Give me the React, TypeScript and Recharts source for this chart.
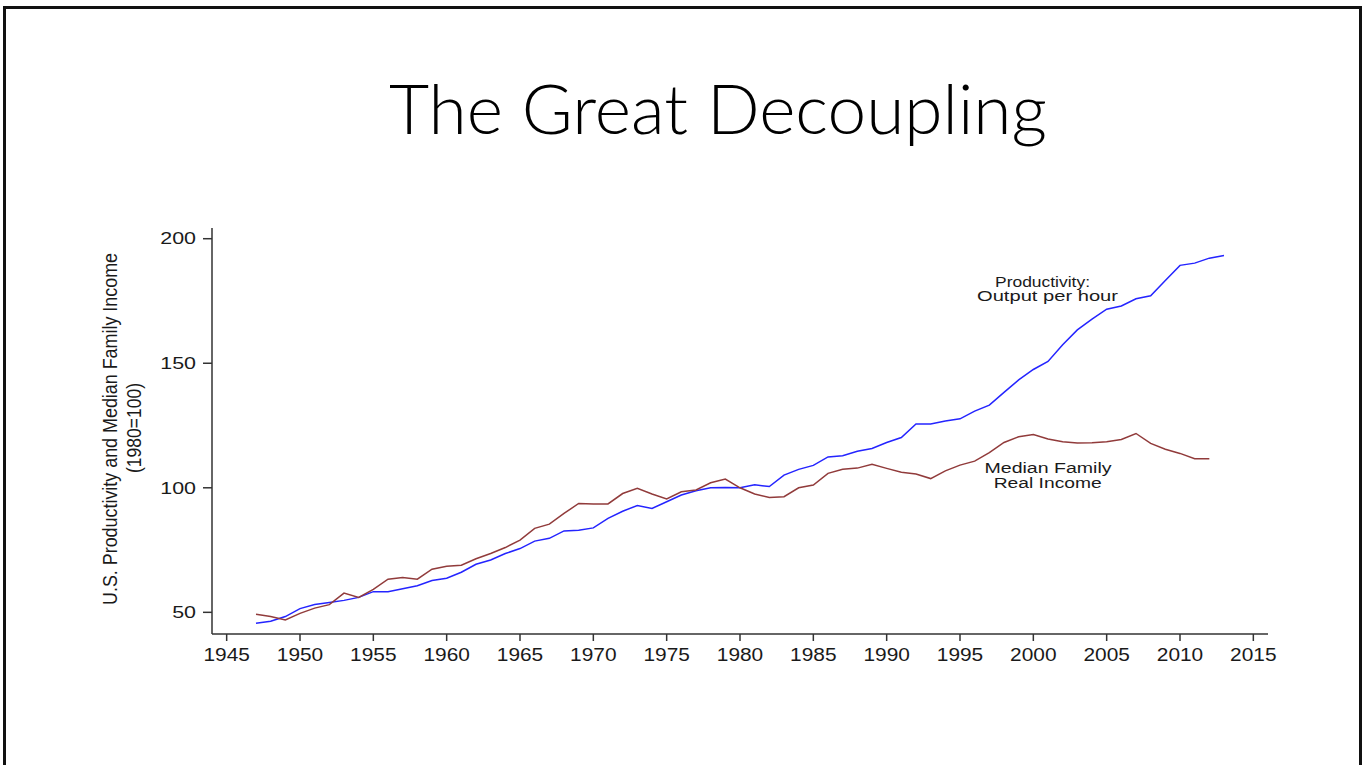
import React from "react";
import { LineChart, Line, XAxis, YAxis } from "recharts";

const years: number[] = [
  1947, 1948, 1949, 1950, 1951, 1952, 1953, 1954, 1955, 1956, 1957, 1958, 1959,
  1960, 1961, 1962, 1963, 1964, 1965, 1966, 1967, 1968, 1969, 1970, 1971, 1972,
  1973, 1974, 1975, 1976, 1977, 1978, 1979, 1980, 1981, 1982, 1983, 1984, 1985,
  1986, 1987, 1988, 1989, 1990, 1991, 1992, 1993, 1994, 1995, 1996, 1997, 1998,
  1999, 2000, 2001, 2002, 2003, 2004, 2005, 2006, 2007, 2008, 2009, 2010, 2011,
  2012, 2013,
];

const productivity: number[] = [
  45.6, 46.4, 48.3, 51.5, 53.1, 53.9, 54.8, 56.0, 58.3, 58.3, 59.5, 60.7, 62.8,
  63.7, 66.1, 69.3, 71.0, 73.6, 75.6, 78.6, 79.7, 82.7, 83.0, 83.9, 87.7, 90.6,
  92.9, 91.7, 94.4, 97.1, 98.8, 100.0, 100.1, 100.0, 101.2, 100.5, 105.1, 107.4,
  109.0, 112.4, 112.9, 114.7, 115.8, 118.2, 120.2, 125.6, 125.6, 126.8, 127.7,
  130.8, 133.2, 138.3, 143.3, 147.5, 150.7, 157.4, 163.4, 167.7, 171.7, 173.0,
  175.9, 177.1, 183.2, 189.3, 190.2, 192.2, 193.3,
];

const medianIncome: (number | null)[] = [
  49.2, 48.3, 46.9, 49.6, 51.7, 53.1, 57.7, 56.0, 59.2, 63.3, 64.0, 63.3, 67.3,
  68.5, 68.9, 71.5, 73.6, 76.0, 79.0, 83.7, 85.4, 89.7, 93.7, 93.5, 93.5, 97.7,
  99.8, 97.5, 95.5, 98.4, 99.1, 102.0, 103.5, 100.0, 97.5, 96.1, 96.4, 100.0,
  101.1, 105.8, 107.4, 107.9, 109.4, 107.8, 106.2, 105.5, 103.7, 106.8, 109.1,
  110.7, 114.1, 118.2, 120.5, 121.4, 119.6, 118.5, 118.0, 118.1, 118.5, 119.4,
  121.8, 117.8, 115.5, 113.8, 111.7, 111.7, null,
];

const xTicks: number[] = [1945, 1950, 1955, 1960, 1965, 1970, 1975, 1980, 1985, 1990, 1995, 2000, 2005, 2010, 2015];
const yTicks: number[] = [50, 100, 150, 200];

const titleText = "The Great Decoupling";
const yLabelLine1 = "U.S. Productivity and Median Family Income";
const yLabelLine2 = "(1980=100)";
const prodLabel = ["Productivity:", "Output per hour"];
const incomeLabel = ["Median Family", "Real Income"];

const data = years.map((y, i) => ({
  year: y,
  productivity: productivity[i],
  income: medianIncome[i],
}));

const FONT = "'Liberation Sans', Arial, Helvetica, sans-serif";

const XTick = (props: any) => {
  const { x, y, payload } = props;
  return (
    <g transform={`translate(${x},${y})`}>
      <text
        transform="scale(1.13,1)"
        textAnchor="middle"
        dy="0.72em"
        fontSize={18.5}
        fontFamily={FONT}
        fill="#1a1a1a"
      >
        {payload.value}
      </text>
    </g>
  );
};

const YTick = (props: any) => {
  const { x, y, payload } = props;
  return (
    <g transform={`translate(${x},${y})`}>
      <text
        transform="scale(1.34,1)"
        textAnchor="end"
        dy="0.36em"
        fontSize={16}
        fontFamily={FONT}
        fill="#1a1a1a"
      >
        {payload.value}
      </text>
    </g>
  );
};

export default function App() {
  return (
    <div
      style={{
        position: "absolute",
        left: 0,
        top: 0,
        width: 1364,
        height: 765,
        overflow: "hidden",
        background: "#fff",
      }}
    >
      <div
        style={{
          position: "absolute",
          left: 3,
          top: 6,
          width: 1353,
          height: 900,
          border: "3px solid #111",
        }}
      />
      <div style={{ position: "absolute", left: 0, top: 0 }}>
        <LineChart
          width={1364}
          height={765}
          data={data}
          margin={{ top: 228, right: 96, bottom: 91, left: 152 }}
        >
          <XAxis
            dataKey="year"
            type="number"
            domain={[1944, 2016]}
            ticks={xTicks}
            allowDataOverflow
            height={40}
            tickSize={7}
            tickMargin={7}
            tick={<XTick />}
            axisLine={{ stroke: "#333", strokeWidth: 1.5 }}
            tickLine={{ stroke: "#333", strokeWidth: 1.5 }}
          />
          <YAxis
            type="number"
            domain={[41.3, 204.3]}
            ticks={yTicks}
            allowDataOverflow
            width={60}
            tickSize={9}
            tickMargin={7}
            tick={<YTick />}
            axisLine={{ stroke: "#333", strokeWidth: 1.5 }}
            tickLine={{ stroke: "#333", strokeWidth: 1.5 }}
          />
          <Line
            type="linear"
            dataKey="productivity"
            stroke="#2424ff"
            strokeWidth={1.5}
            dot={false}
            isAnimationActive={false}
          />
          <Line
            type="linear"
            dataKey="income"
            stroke="#913b3b"
            strokeWidth={1.5}
            dot={false}
            connectNulls={false}
            isAnimationActive={false}
          />
        </LineChart>
      </div>
      <svg
        width={1364}
        height={765}
        style={{ position: "absolute", left: 0, top: 0, pointerEvents: "none" }}
      >
        <text
          x={718}
          y={134}
          textAnchor="middle"
          fontSize={68}
          fontWeight={300}
          fontFamily="'Helvetica Neue', Lato, Roboto, 'Open Sans', sans-serif"
          fill="#000"
          textLength={658}
          lengthAdjust="spacingAndGlyphs"
        >
          {titleText}
        </text>
        <text
          transform="translate(117,429) rotate(-90) scale(1,1.3)"
          textAnchor="middle"
          fontSize={16}
          fontFamily={FONT}
          fill="#1a1a1a"
          textLength={352}
          lengthAdjust="spacingAndGlyphs"
        >
          {yLabelLine1}
        </text>
        <text
          transform="translate(141,428) rotate(-90) scale(1,1.3)"
          textAnchor="middle"
          fontSize={16}
          fontFamily={FONT}
          fill="#1a1a1a"
          textLength={90}
          lengthAdjust="spacingAndGlyphs"
        >
          {yLabelLine2}
        </text>
        <text x={1042.5} y={286.7} textAnchor="middle" fontSize={14} fontFamily={FONT} fill="#1a1a1a" textLength={95} lengthAdjust="spacingAndGlyphs">
          {prodLabel[0]}
        </text>
        <text x={1047.5} y={301} textAnchor="middle" fontSize={14} fontFamily={FONT} fill="#1a1a1a" textLength={141} lengthAdjust="spacingAndGlyphs">
          {prodLabel[1]}
        </text>
        <text x={1048} y={473} textAnchor="middle" fontSize={14} fontFamily={FONT} fill="#1a1a1a" textLength={127} lengthAdjust="spacingAndGlyphs">
          {incomeLabel[0]}
        </text>
        <text x={1047.7} y={487.7} textAnchor="middle" fontSize={14} fontFamily={FONT} fill="#1a1a1a" textLength={108} lengthAdjust="spacingAndGlyphs">
          {incomeLabel[1]}
        </text>
      </svg>
    </div>
  );
}
